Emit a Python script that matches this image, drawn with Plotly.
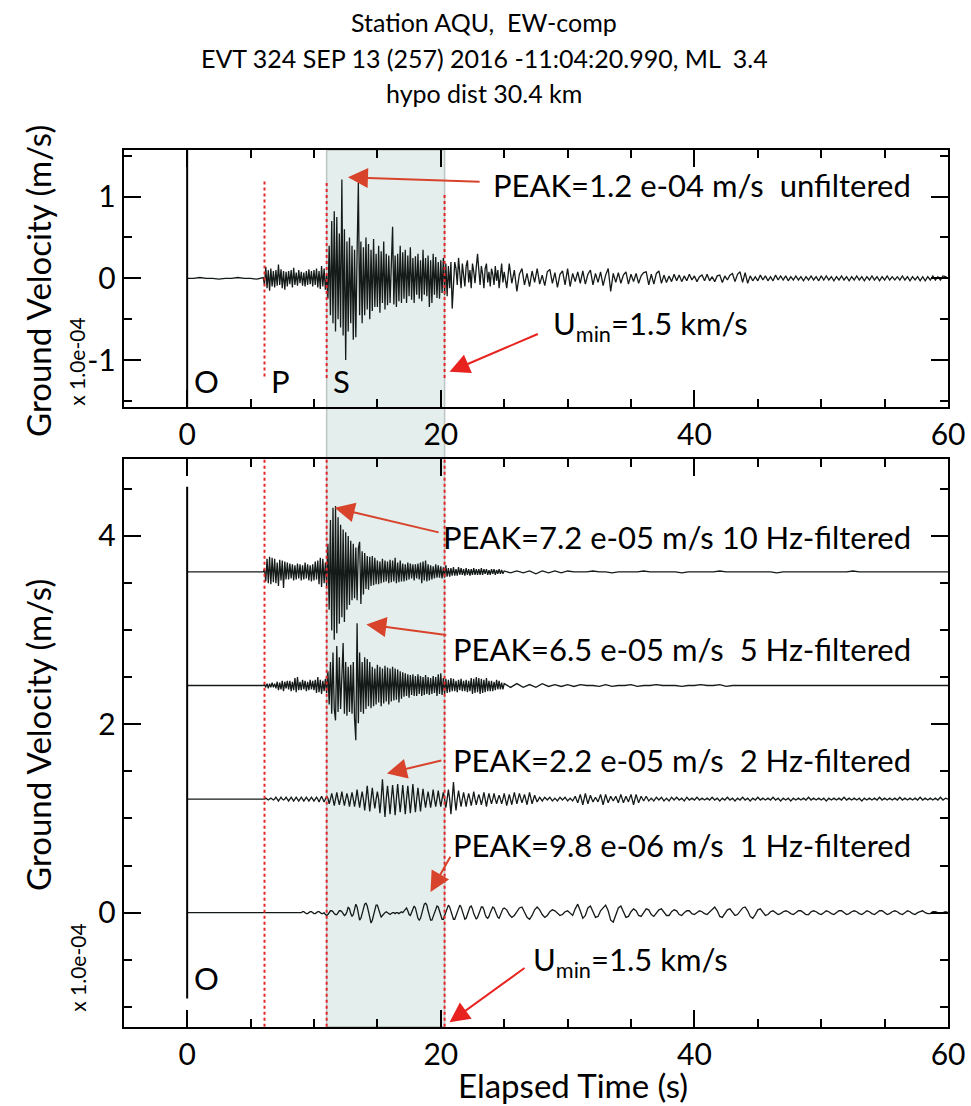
import numpy as np
import plotly.graph_objects as go

W, H = 971, 1106          # target picture size (px)
FIG_W = 986               # layout width; the photograph is squeezed to W horizontally
FONT = "Lato"

PRE_T0, PRE_DT = 0.0, 0.5      # 0.0 .. 5.5 s
MAIN_T0, MAIN_DT = 6.0, 0.1    # 6.0 .. 24.9 s
CODA_T0 = 25.0                 # 25.0 .. 60.0 s

# ---------------- trace values in micro-m/s (1e-6 m/s) ----------------------
# unfiltered
unf_pre = [0, 0, 1, 0, 0, -1, 0, 0, 1, 0, 0, -1]
unf_main = [
    1, -8, 14, -12, 10, -15, 12, -10, 9, -11,
    10, -9, 17, -8, 11, -12, 9, -14, 8, -10,
    9, -7, 10, -11, 13, -8, 7, -9, 10, -6,
    8, -9, 7, -10, 9, -8, 11, -7, 9, -10,
    10, -8, 12, -11, 9, -13, 15, -10, 12, -14,
    5, -25, 40, -45, 70, -55, 82, -65, 75, -50,
    55, -60, 121, -70, 60, -100, 45, -65, 50, -55,
    40, -75, 35, -72, 30, 117, -45, 45, -55, 38,
    -45, 50, -38, 42, -50, 35, -40, 48, -35, 30,
    -35, 40, -42, 33, -30, 45, -38, 30, -33, 28,
    -30, 35, 63, -32, 28, -35, 30, -28, 40, -30,
    32, -25, 35, -30, 28, -22, 38, -26, 25, -30,
    27, -20, 30, -25, 22, -28, 35, -20, 25, -22,
    28, -35, 22, -30, 30, -20, 26, -24, 20, -25,
    22, -18, 25, -20, 18, -22, 15, -12, 20, -37,
    -15, 20, 12, -8, 25, 10, -12, 18, 5, -10,
    15, 22, -5, 10, -12, 18, 8, -6, 14, 30,
    10, -8, 15, 5, -12, 12, 18, -5, 8, -10,
    12, 5, -8, 15, -3, 10, -12, 8, 18, -5,
]
UNF_CODA_DT = 0.2
unf_coda = [
    8, -12, 18, -6, 10,   -16, 5, 12, -8, 6,    -10, 9, -5, 12, -7,
    4, -9, 8, 11, -6,     7, -11, 5, 9, -8,     12, -10, 6, -4, 8,
    -6, 9, -7, 5, 10,     -8, 6, -5, 8, -9,     4, 12, -16, 6, -5,
    7, -6, 4, 8, -7,      5, -4, 6, -6, 3,      7, 8, -8, 5, -7,
    6, 9, -6, 4, -5,      3, -4, 5, -3, 4,      -4, 3, -3, 5, -2,
    3, -4, 2, 4, -3,      5, -3, 2, -4, 3,      4, -5, 3, -2, 4,
    6, -4, 5, 8, -5,      7, -6, 3, -3, 2,      -3, 4, -2, 3, -3,
    2, -3, 4, -2, 3,      -2, 3, -3, 2, -2,     3, -2, 2, -3, 2,
    -2, 3, -2, 2, -3,     3, -2, 3, -2, 2,      -3, 2, -2, 3, -2,
    2, -3, 2, -2, 3,      -2, 2, -3, 2, -2,     3, -2, 2, -3, 2,
    -2, 3, -2, 2, -2,     2, -2, 3, -2, 2,      -3, 2, -2, 2, -3,
    2, -3, 2, -2, 3,      -2, 2, -2, 3, 2,
    0,
]

# 10 Hz-filtered
f10_pre = [0, 0, 0, 0, 0, 0, 0, 0, 0, 0, 0, 0]
f10_main = [
    0, 3, -10, 14, -12, 16, -13, 15, -11, 14,
    -12, 10, -15, 13, -9, 12, -17, 11, -8, 10,
    -8, 9, -7, 8, -9, 7, -8, 9, -7, 8,
    -9, 7, -8, 10, -7, 8, -9, 7, -10, 8,
    -9, 11, -8, 12, -13, 15, -16, 14, -12, 10,
    -15, 30, -40, 55, -62, 68, -72, 70, -65, 58,
    -55, 50, -48, 45, -53, 42, -40, 38, -35, 33,
    -30, 30, -28, 26, -30, 25, 32, -34, 22, -24,
    20, -18, 17, -19, 16, -15, 17, -14, 15, -13,
    12, -13, 11, -12, 14, -11, 12, -10, 11, -12,
    13, -11, 12, -10, 15, -12, 10, -11, 12, -10,
    9, -10, 8, -9, 10, -8, 9, -7, 8, -9,
    8, -7, 9, -8, 10, -12, 11, -9, 12, -10,
    8, -9, 7, -8, 6, -7, 8, -6, 7, -6,
    6, -7, 5, -6, 7, -5, 4, -5, 4, -4,
    5, -4, 3, -4, 5, -3, 4, -3, 3, -4,
    4, -3, 3, -4, 3, -3, 4, -3, 3, -3,
    3, -3, 4, -3, 3, -2, 3, -3, 2, -3,
    3, -2, 3, -3, 2, -2, 3, -2, 2, -2,
]
F10_CODA_DT = 0.5
f10_coda = [
    1, -1, 1, -1, 1, -2, 1, -1, 1, -1,
    1, 0, 0, 0, 1, 0, 0, -1, 0, 0,
    0, 0, 1, 0, 0, 0, 0, 0, -1, 0,
    0, 0, 0, 0, 1, 0, 0, 0, 0, 0,
    0, 0, 0, -1, 0, 0, 0, 0, 0, 0,
    0, 0, 0, 0, 0, 1, 0, 0, 0, 0,
    0, 0, 0, 0, 0, 0, 0, 0, 0, 0,
    0,
]

# 5 Hz-filtered
f5_pre = [0, 0, 0, 0, 0, 0, 0, 0, 0, 0, 0, 0]
f5_main = [
    0, 1, -2, 2, -3, 2, -2, 3, -2, 2,
    -3, 4, -5, 3, -4, 5, -6, 4, -3, 5,
    -4, 5, -6, 4, -5, 8, -7, 9, -5, 4,
    -5, 6, -4, 5, -6, 4, -5, 6, -4, 5,
    -5, 6, -8, 9, -7, 6, -9, 5, -6, 7,
    -8, 15, -20, 25, -30, 35, -25, -37, 42, -28,
    30, -25, 22, 45, -30, 25, -32, 20, -28, 22,
    -30, 25, -35, -58, 66, -40, 35, -28, 25, -30,
    30, -25, 28, -22, 25, -24, 20, -22, 18, -20,
    22, -18, 20, -22, 18, -19, 21, -17, 19, -20,
    18, -17, 20, -16, 18, -15, 17, -18, 15, -14,
    14, -12, 13, -11, 12, -13, 11, -10, 12, -11,
    10, -11, 12, -9, 10, -11, 9, -10, 11, -9,
    9, -10, 8, -9, 10, -8, 9, -11, 12, -9,
    13, -10, 8, -9, 7, -8, 6, -7, 8, -6,
    7, -6, 5, -7, 6, -5, 7, -6, 5, -6,
    6, -7, 5, -6, 8, -9, 7, -8, 9, -7,
    8, -9, 7, -8, 6, -7, 8, -6, 5, -6,
    5, -6, 4, -5, 6, -4, 5, -4, 3, -4,
]
F5_CODA_DT = 0.5
f5_coda = [
    2, -2, 2, -2, 1, -2, 2, -1, 1, -1,
    1, -1, 1, 0, 0, -1, 1, -1, 0, 0,
    1, -1, 0, 0, 1, 0, 0, 0, -1, 0,
    0, 1, 0, 0, 1, -1, 0, 0, 0, 0,
    0, 0, 0, 0, 0, 0, 0, 0, 0, 0,
    0, 0, 0, 0, 0, 0, 0, 0, 0, 0,
    0, 0, 0, 0, 0, 0, 0, 0, 0, 0,
    0,
]

# 2 Hz-filtered
f2_pre = [0, 0, 0, 0, 0, 0, 0, 0, 0, 0, 0, 0]
f2_main = [
    0, 0, 1, 0, -1, 0, 1, 0, -1, 0,
    2, 0, -2, 0, 2, 0, -1, 0, 2, 0,
    -2, 0, 2, 0, -2, 0, 2, 0, -2, 0,
    2, 0, -2, 0, 2, 0, -2, 0, 2, 0,
    -2, 0, 2, 0, -3, 0, 3, 0, -3, 0,
    3, 1, -5, 0, 6, 0, -7, 0, 7, 0,
    -6, 0, 8, 0, -7, 0, 6, 0, -8, 0,
    7, 0, -8, 0, 10, 0, -9, 0, 8, 0,
    -12, 0, 14, 0, -13, 0, 12, 0, -10, 0,
    8, 0, -15, 0, 21, 0, -19, 0, 14, 0,
    -16, 0, 15, 0, -17, 0, 16, 0, -14, 0,
    15, 0, -16, 0, 14, 0, -15, 0, 16, 0,
    -14, 0, 12, 0, -13, 0, 11, 0, -9, 0,
    8, 0, -9, 0, 10, 0, -8, 0, 9, 0,
    -8, 0, 7, 0, -9, 0, 10, 0, -16, 0,
    18, 0, -12, 0, 9, 0, -8, 0, 7, 0,
    -8, 0, 6, 0, -7, 0, 8, 0, -6, 0,
    5, 0, -6, 0, 7, 0, -8, 0, 6, 0,
    -5, 0, 6, 0, -5, 0, 4, 0, -5, 0,
]
F2_CODA_DT = 0.2
f2_coda = [
    6, -7, 5, -6, 7,    -5, 6, -4, 5, -6,    7, -5, 4, -3, 2,
    -2, 2, -1, 2, -2,   1, -2, 2, -1, 2,     -2, 1, -2, 3, -4,
    5, -6, 6, -5, 4,    -3, 2, -3, 5, -6,    5, -4, 3, -2, 3,
    -4, 5, -4, 3, -3,   5, -6, 5, -4, 3,     -2, 3, -2, 1, -2,
    2, -1, 2, -2, 1,    -2, 2, -1, 2, -1,    1, -2, 2, -1, 1,
    -1, 2, -1, 1, -1,   1, -1, 2, -1, 1,     -2, 1, -1, 2, -1,
    1, -2, 1, -1, 2,    -1, 1, -2, 1, -1,    2, -1, 1, -1, 1,
    -1, 2, -1, 1, -2,   1, -1, 1, -2, 1,     -1, 1, -1, 1, -1,
    2, -1, 1, -1, 1,    -1, 1, -2, 1, -1,    1, -1, 1, -1, 2,
    -1, 1, -1, 1, -1,   1, -2, 1, -1, 1,     -1, 1, -1, 2, -1,
    1, -1, 1, -1, 1,    -1, 2, -1, 1, -1,    1, -1, 1, -1, 2,
    -1, 1, -1, 1, -1,   1, -1, 2, -1, 1,
    0,
]

# 1 Hz-filtered
f1_pre = [0, 0, 0, 0, 0, 0, 0, 0, 0, 0, 0, 0]
f1_main = [
    0, 0, 0, 0, 0, 0, 0, 0, 0, 0,
    0, 0, 0, 0, 0, 0, 0, 0, 0, 0,
    0, 0, 0, 0, 0, 0, 0, 0, 0, 0,
    0, 1, 1, 0, -1, -1, 0, 1, 1, 0,
    -1, -1, 0, 1, 1, 0, -1, -1, 0, -2,
    -3, -2, 0, 2, 2, 1, -1, -2, -2, 0,
    2, 2, 1, -1, -3, -2, 1, 6, 4, -1,
    -4, -2, 3, 9, 6, -2, -8, -6, 0, 6,
    9, 10, 7, 1, -6, -11, -8, -2, 4, 8,
    8, 4, -2, -5, -3, -1, 0, 1, 0, -1,
    -2, -1, 0, 0, -1, 0, 0, -1, 0, 1,
    0, 2, 4, 5, 2, -2, -3, 1, 5, 7,
    5, -1, -6, -8, -6, -1, 5, 9, 10, 8,
    2, -4, -8, -8, -4, 1, 5, 7, 6, 2,
    -3, -7, -7, -3, 2, 6, 8, 6, 1, -4,
    -7, -7, -3, 2, 6, 8, 6, 1, -4, -7,
    -6, -2, 3, 6, 7, 4, -1, -5, -7, -5,
    -1, 3, 6, 6, 3, -2, -5, -6, -4, 0,
    4, 6, 5, 2, -2, -5, -6, -3, 1, 4,
]
F1_CODA_DT = 0.2
f1_coda = [
    5, 3, -2, -5, -3,   1, 5, 6, 1, -5,     -7, -3, 3, 6, 3,
    -2, -5, -3, 1, 3,   2, -1, -3, -2, 1,   2, -1, -3, 4, 9,
    2, -6, -3, 5, 7,    1, -5, -4, 2, 5,    8, 2, -8, -10, -2,
    5, 7, 1, -5, -4,    1, 4, 2, -3, -4,    0, 4, 3, -2, -4,
    -1, 3, 4, 0, -3,    -3, 1, 3, 2, -2,    -3, 0, 2, 2, -1,
    -2, 0, 2, 1, -1,    -2, 1, 4, 6, 2,     -4, -5, -1, 3, 4,
    1, -3, -2, 2, 5,    6, 2, -4, -6, -2,   3, 4, 0, -3, -2,
    1, 2, 0, -2, -1,    1, 2, 1, -1, -2,    0, 2, 2, 0, -2,
    -2, 1, 2, 1, -1,    -2, 0, 2, 1, -1,    -2, 0, 2, 2, 0,
    -2, -1, 1, 2, 1,    -1, -2, 0, 2, 1,    -1, -2, 0, 2, 2,
    0, -2, -1, 1, 2,    1, -1, -2, 0, 2,    1, -1, -2, 0, 1,
    2, 0, -1, -1, 1,    1, 0, -1, 0, 1,
    0,
]

# ---------------- picks, labels --------------------------------------------
T_P, T_S, T_UMIN = 6.1, 11.0, 20.3
BASELINES = [3.615, 2.41, 1.205, 0.0]          # 10, 5, 2, 1 Hz traces
TITLE_LINES = ["Station AQU,\u00a0 EW-comp",
               "EVT 324 SEP 13 (257) 2016 -11:04:20.990, ML\u00a0 3.4",
               "hypo dist 30.4 km"]
PEAK_TEXTS = ["PEAK=1.2 e-04 m/s\u00a0 unfiltered",
              "PEAK=7.2 e-05 m/s 10 Hz-filtered",
              "PEAK=6.5 e-05 m/s\u00a0 5 Hz-filtered",
              "PEAK=2.2 e-05 m/s\u00a0 2 Hz-filtered",
              "PEAK=9.8 e-06 m/s\u00a0 1 Hz-filtered"]
UMIN_TEXT = "U<sub>min</sub>=1.5 km/s"


def build(pre, main, coda, coda_dt):
    t = np.concatenate([PRE_T0 + PRE_DT * np.arange(len(pre)),
                        MAIN_T0 + MAIN_DT * np.arange(len(main)),
                        CODA_T0 + coda_dt * np.arange(len(coda))])
    v = np.array(pre + main + coda, dtype=float) / 100.0   # -> units of 1e-4 m/s
    return t, v


fig = go.Figure()
LINE = dict(color="#141a18", width=1.3)

t, v = build(unf_pre, unf_main, unf_coda, UNF_CODA_DT)
fig.add_trace(go.Scatter(x=t, y=v, mode="lines", line=LINE, xaxis="x", yaxis="y",
                         hoverinfo="skip", showlegend=False))

for (pre, main, coda, dt), base in zip(
        [(f10_pre, f10_main, f10_coda, F10_CODA_DT),
         (f5_pre, f5_main, f5_coda, F5_CODA_DT),
         (f2_pre, f2_main, f2_coda, F2_CODA_DT),
         (f1_pre, f1_main, f1_coda, F1_CODA_DT)], BASELINES):
    t, v = build(pre, main, coda, dt)
    fig.add_trace(go.Scatter(x=t, y=v + base, mode="lines", line=LINE,
                             xaxis="x2", yaxis="y2", hoverinfo="skip", showlegend=False))

# ---------------- layout ----------------------------------------------------
def px_x(p):
    return p / W


def px_y(p):
    return 1 - p / H


X_DOM = [px_x(124), px_x(950)]
Y1_DOM = [px_y(406.7), px_y(150)]
Y2_DOM = [px_y(1026.7), px_y(459.3)]

ax_common = dict(showline=True, linewidth=2, linecolor="black", mirror="ticks",
                 ticks="inside", tickwidth=2, ticklen=17, tickcolor="black",
                 showgrid=False, zeroline=False,
                 tickfont=dict(family=FONT, size=30, color="black"))

xax = dict(ax_common, range=[-5, 60], tickmode="linear", tick0=0, dtick=20,
           domain=X_DOM,
           minor=dict(tickmode="linear", tick0=0, dtick=5, ticklen=8, tickwidth=2,
                      ticks="inside", tickcolor="black", showgrid=False))

fig.update_layout(
    width=FIG_W, height=H, margin=dict(l=0, r=0, t=0, b=0), autosize=False,
    paper_bgcolor="white", plot_bgcolor="rgba(0,0,0,0)",
    showlegend=False,
    xaxis=dict(xax, anchor="y"),
    xaxis2=dict(xax, anchor="y2"),
    yaxis=dict(ax_common, domain=Y1_DOM, range=[-1.57, 1.57], anchor="x",
               tickmode="array", tickvals=[-1, 0, 1], ticktext=["-1", "0", "1"],
               minor=dict(tickmode="linear", tick0=0, dtick=0.5, ticklen=8, tickwidth=2,
                          ticks="inside", tickcolor="black", showgrid=False)),
    yaxis2=dict(ax_common, domain=Y2_DOM, range=[-1.21, 4.81], anchor="x2",
                tickmode="array", tickvals=[0, 2, 4], ticktext=["0", "2", "4"],
                minor=dict(tickmode="linear", tick0=0, dtick=0.5, ticklen=8, tickwidth=2,
                           ticks="inside", tickcolor="black", showgrid=False)),
)

shapes = []
# S-to-Umin window spanning both panels
shapes.append(dict(type="rect", xref="x", yref="paper", x0=T_S, x1=T_UMIN,
                   y0=Y2_DOM[0], y1=Y1_DOM[1], fillcolor="#e4eeec",
                   line=dict(color="#bcc5c3", width=1.5), layer="below"))
# origin time lines
shapes.append(dict(type="line", xref="x", yref="y domain", x0=0, x1=0, y0=0, y1=1,
                   line=dict(color="black", width=2)))
shapes.append(dict(type="line", xref="x2", yref="y2", x0=0, x1=0, y0=-0.91, y1=4.52,
                   line=dict(color="black", width=2)))
# phase picks (red dotted)
RED = "#e3262a"
for x0, ya, yb in [(T_P, -1.2, 1.21), (T_S, -1.22, 1.18), (T_UMIN, -1.22, 1.03)]:
    shapes.append(dict(type="line", xref="x", yref="y", x0=x0, x1=x0, y0=ya, y1=yb,
                       line=dict(color=RED, width=2, dash="dot"), layer="above"))
for x0 in [T_P, T_S, T_UMIN]:
    shapes.append(dict(type="line", xref="x2", yref="y2 domain", x0=x0, x1=x0, y0=0, y1=1,
                       line=dict(color=RED, width=2, dash="dot"), layer="above"))
fig.update_layout(shapes=shapes)

ann = []
TXT = dict(family=FONT, size=31, color="black")
# titles
for yy, s in zip([22, 58, 93], TITLE_LINES):
    ann.append(dict(text=s, xref="paper", yref="paper", x=px_x(485), y=px_y(yy),
                    showarrow=False, xanchor="center", yanchor="middle",
                    font=dict(family=FONT, size=25, color="black")))
# axis titles
for yy in [281, 735]:
    ann.append(dict(text="Ground Velocity (m/s)", xref="paper", yref="paper",
                    x=px_x(38), y=px_y(yy), textangle=-90, showarrow=False,
                    xanchor="center", yanchor="middle",
                    font=dict(family=FONT, size=33, color="black")))
for yy in [362, 968]:
    ann.append(dict(text="x 1.0e-04", xref="paper", yref="paper",
                    x=px_x(77), y=px_y(yy), textangle=-90, showarrow=False,
                    xanchor="center", yanchor="middle",
                    font=dict(family=FONT, size=21, color="black")))
ann.append(dict(text="Elapsed Time (s)", xref="paper", yref="paper",
                x=px_x(574), y=px_y(1085), showarrow=False,
                xanchor="center", yanchor="middle",
                font=dict(family=FONT, size=33, color="black")))
# phase letters
for s, xx, yy in [("O", 1.5, -1.26), ("P", 7.4, -1.26), ("S", 12.2, -1.26)]:
    ann.append(dict(text=s, xref="x", yref="y", x=xx, y=yy, showarrow=False,
                    xanchor="center", yanchor="middle",
                    font=dict(family=FONT, size=31, color="black")))
ann.append(dict(text="O", xref="x2", yref="y2", x=1.5, y=-0.69, showarrow=False,
                xanchor="center", yanchor="middle",
                font=dict(family=FONT, size=31, color="black")))

# peak labels (right-aligned) and arrows
PEAK_ARROW = "#d8432b"
UMIN_ARROW = "#e8231f"
peak_specs = [
    # text y, axis, tip (x, y), tail (x, y)
    (1.148, "x", "y", (12.68, 1.236), (23.18, 1.18)),
    (3.985, "x2", "y2", (11.63, 4.296), (19.95, 4.031)),
    (2.80, "x2", "y2", (14.13, 3.058), (20.55, 2.945)),
    (1.618, "x2", "y2", (15.75, 1.477), (20.16, 1.618)),
    (0.716, "x2", "y2", (19.19, 0.22), (20.82, 0.609)),
]
for s, (ty, xr, yr, tip, tail) in zip(PEAK_TEXTS, peak_specs):
    ann.append(dict(text=s, xref=xr, yref=yr, x=57.2, y=ty, showarrow=False,
                    xanchor="right", yanchor="middle", font=TXT))
    ann.append(dict(text="", xref=xr, yref=yr, x=tip[0], y=tip[1],
                    axref=xr, ayref=yr, ax=tail[0], ay=tail[1], showarrow=True,
                    arrowhead=2, arrowsize=2.0, arrowwidth=2, arrowcolor=PEAK_ARROW,
                    standoff=0))
for xr, yr, ty, tx, tip, tail in [
        ("x", "y", -0.58, 28.7, (20.69, -1.143), (27.77, -0.673)),
        ("x2", "y2", -0.52, 27.1, (20.69, -1.163), (26.72, -0.576))]:
    ann.append(dict(text=UMIN_TEXT, xref=xr, yref=yr, x=tx, y=ty, showarrow=False,
                    xanchor="left", yanchor="middle", font=TXT))
    ann.append(dict(text="", xref=xr, yref=yr, x=tip[0], y=tip[1],
                    axref=xr, ayref=yr, ax=tail[0], ay=tail[1], showarrow=True,
                    arrowhead=2, arrowsize=2.0, arrowwidth=2, arrowcolor=UMIN_ARROW,
                    standoff=0))
fig.update_layout(annotations=ann)

PAGE_CSS = ("var s=document.createElement('style');"
            "s.innerHTML='html,body{margin:0 !important;padding:0 !important;"
            "overflow:hidden !important;}"
            " .plotly-graph-div{position:fixed !important;left:0;top:0;}';"
            "document.head.appendChild(s);")

fig.write_html("out.html", config={"responsive": False}, post_script=PAGE_CSS)
